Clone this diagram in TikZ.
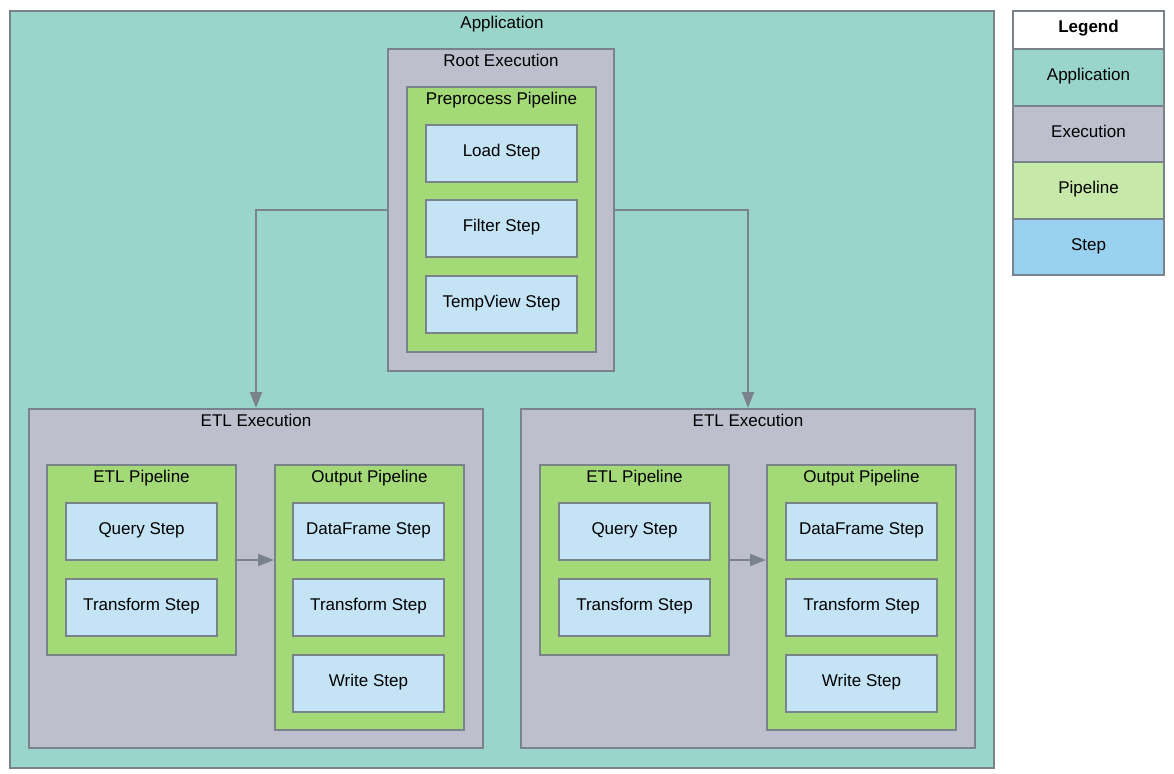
\documentclass[tikz,border=0pt]{standalone}
\usepackage{fontspec}
\setmainfont{Liberation Sans}
\usetikzlibrary{arrows.meta}
\definecolor{appc}{HTML}{99D5CA}
\definecolor{exec}{HTML}{BEBFCC}
\definecolor{pipe}{HTML}{A3D977}
\definecolor{stepc}{HTML}{C4E4F6}
\definecolor{lpipe}{HTML}{C6E8A9}
\definecolor{lstep}{HTML}{99D1F1}
\definecolor{edge}{HTML}{7A828C}
\tikzset{
  box/.style={draw=edge, line width=2pt, anchor=north west, inner sep=0pt, text height=12pt, text depth=6pt, font=\fontsize{17}{20}\selectfont},
  ttl/.style={label={[anchor=north, inner sep=0pt, text height=12pt, text depth=3pt, yshift=-6.5pt, font=\fontsize{17}{20}\selectfont]north:#1}},
  stepbox/.style={box, fill=stepc, minimum width=151pt, minimum height=57pt},
  pipebox/.style={box, fill=pipe, minimum width=189pt},
  execbox/.style={box, fill=exec},
  leg/.style={box, minimum width=151pt},
  conn/.style={draw=edge, line width=2pt, -{Triangle[width=12pt,length=16pt]}},
}
\begin{document}
\begin{tikzpicture}[x=1pt,y=-1pt]
\useasboundingbox (0,0) rectangle (1174,773);
% Application
\node[box, fill=appc, minimum width=984pt, minimum height=757pt, ttl=Application] (app) at (9,10) {};
% Root execution
\node[execbox, minimum width=226pt, minimum height=322pt, ttl=Root Execution] (root) at (387,48) {};
\node[pipebox, minimum height=265pt, ttl=Preprocess Pipeline] (pre) at (406,86) {};
\node[stepbox] (load) at (425,124) {Load Step};
\node[stepbox] (filter) at (425,199) {Filter Step};
\node[stepbox] (temp) at (425,275) {TempView Step};
% Left ETL execution
\node[execbox, minimum width=454pt, minimum height=339pt, ttl=ETL Execution] (etla) at (28,408) {};
\node[pipebox, minimum height=190pt, ttl=ETL Pipeline] (etlpa) at (46,464) {};
\node[stepbox] (qa) at (65,502) {Query Step};
\node[stepbox] (ta) at (65,578) {Transform Step};
\node[pipebox, minimum height=265pt, ttl=Output Pipeline] (outa) at (274,464) {};
\node[stepbox] (dfa) at (292,502) {DataFrame Step};
\node[stepbox] (ota) at (292,578) {Transform Step};
\node[stepbox] (wa) at (292,654) {Write Step};
% Right ETL execution
\node[execbox, minimum width=454pt, minimum height=339pt, ttl=ETL Execution] (etlb) at (520,408) {};
\node[pipebox, minimum height=190pt, ttl=ETL Pipeline] (etlpb) at (539,464) {};
\node[stepbox] (qb) at (558,502) {Query Step};
\node[stepbox] (tb) at (558,578) {Transform Step};
\node[pipebox, minimum height=265pt, ttl=Output Pipeline] (outb) at (766,464) {};
\node[stepbox] (dfb) at (785,502) {DataFrame Step};
\node[stepbox] (otb) at (785,578) {Transform Step};
\node[stepbox] (wb) at (785,654) {Write Step};
% connectors
\draw[conn] (root.west) -| (etla.north);
\draw[conn] (root.east) -| (etlb.north);
\draw[conn] (etlpa.east) -- (outa.west |- etlpa.east);
\draw[conn] (etlpb.east) -- (outb.west |- etlpb.east);
% Legend
\node[leg, fill=white, minimum height=38pt, font=\fontsize{17}{20}\selectfont\bfseries] (lg) at (1012,10) {Legend};
\node[leg, fill=appc, minimum height=57pt] (lapp) at (1012,48) {Application};
\node[leg, fill=exec, minimum height=56pt] (lexe) at (1012,105) {Execution};
\node[leg, fill=lpipe, minimum height=57pt] (lpip) at (1012,161) {Pipeline};
\node[leg, fill=lstep, minimum height=56pt] (lstp) at (1012,218) {Step};
\end{tikzpicture}
\end{document}
